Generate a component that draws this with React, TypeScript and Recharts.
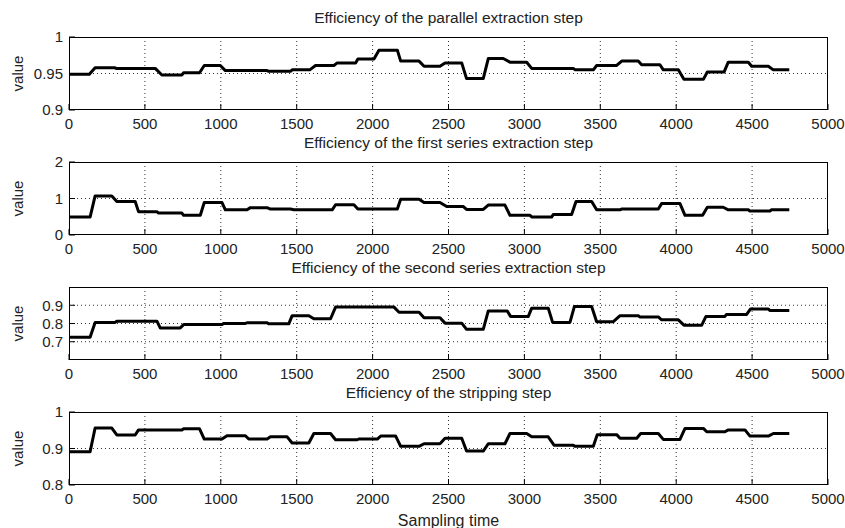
import React from "react";
import { LineChart, Line, XAxis, YAxis, CartesianGrid } from "recharts";

// Each efficiency trace is a run of plateaus: sample where a level starts,
// sample where it ends, and the level itself. The line ramps between them.
const parallelStart = [0, 172, 310, 612, 755, 891, 1030, 1315, 1470, 1624, 1767, 1903, 2042, 2185, 2339, 2477, 2619, 2762, 2905, 3048, 3335, 3476, 3641, 3772, 3915, 4051, 4205, 4343, 4497, 4640];
const parallelEnd = [134, 300, 568, 744, 860, 997, 1305, 1459, 1586, 1745, 1888, 2009, 2163, 2306, 2444, 2587, 2729, 2861, 3015, 3322, 3454, 3608, 3750, 3893, 4014, 4179, 4315, 4475, 4607, 4745];
const parallelLevel = [0.949, 0.958, 0.957, 0.948, 0.951, 0.961, 0.954, 0.953, 0.955, 0.961, 0.9645, 0.97, 0.982, 0.967, 0.96, 0.9645, 0.943, 0.9705, 0.9655, 0.957, 0.955, 0.961, 0.967, 0.962, 0.955, 0.942, 0.952, 0.9655, 0.96, 0.955];

const firstStart = [0, 172, 315, 458, 590, 755, 891, 1030, 1195, 1327, 1481, 1756, 1903, 2185, 2339, 2488, 2619, 2762, 2905, 3050, 3190, 3340, 3476, 3640, 3904, 4058, 4205, 4343, 4485, 4628];
const firstEnd = [139, 282, 436, 579, 744, 865, 1008, 1173, 1305, 1459, 1734, 1877, 2163, 2306, 2444, 2598, 2729, 2872, 3037, 3179, 3311, 3443, 3630, 3882, 4025, 4174, 4310, 4475, 4618, 4745];
const firstLevel = [0.49, 1.07, 0.92, 0.64, 0.6, 0.54, 0.89, 0.69, 0.75, 0.71, 0.69, 0.83, 0.71, 0.98, 0.89, 0.78, 0.7, 0.82, 0.54, 0.49, 0.56, 0.92, 0.69, 0.71, 0.86, 0.54, 0.76, 0.69, 0.66, 0.69];

const secondStart = [0, 172, 315, 601, 755, 1018, 1172, 1315, 1470, 1613, 1756, 2174, 2339, 2477, 2619, 2762, 2909, 3048, 3186, 3329, 3476, 3630, 3760, 3904, 4051, 4196, 4331, 4490, 4617];
const secondEnd = [139, 304, 579, 733, 1008, 1162, 1305, 1448, 1580, 1723, 2141, 2306, 2444, 2587, 2729, 2887, 3026, 3157, 3300, 3443, 3586, 3750, 3882, 4014, 4168, 4321, 4464, 4607, 4745];
const secondLevel = [0.725, 0.806, 0.813, 0.776, 0.794, 0.8, 0.804, 0.798, 0.843, 0.826, 0.89, 0.862, 0.832, 0.802, 0.768, 0.869, 0.839, 0.884, 0.806, 0.893, 0.81, 0.843, 0.836, 0.82, 0.791, 0.839, 0.85, 0.88, 0.871];

const stripStart = [0, 172, 315, 458, 755, 891, 1041, 1184, 1327, 1470, 1613, 1756, 1909, 2053, 2185, 2339, 2477, 2619, 2762, 2905, 3048, 3195, 3332, 3480, 3630, 3766, 3915, 4058, 4201, 4343, 4486, 4640];
const stripEnd = [139, 282, 436, 744, 860, 1008, 1162, 1305, 1437, 1580, 1723, 1899, 2031, 2152, 2306, 2444, 2587, 2729, 2872, 3015, 3157, 3322, 3454, 3608, 3740, 3882, 4025, 4179, 4321, 4453, 4607, 4745];
const stripLevel = [0.891, 0.956, 0.937, 0.951, 0.954, 0.926, 0.935, 0.926, 0.932, 0.915, 0.941, 0.924, 0.926, 0.934, 0.906, 0.913, 0.928, 0.893, 0.913, 0.941, 0.932, 0.909, 0.906, 0.938, 0.928, 0.941, 0.925, 0.955, 0.946, 0.951, 0.934, 0.941];

const xTicks = [0, 500, 1000, 1500, 2000, 2500, 3000, 3500, 4000, 4500, 5000];
const titles = [
  "Efficiency of the parallel extraction step",
  "Efficiency of the first series extraction step",
  "Efficiency of the second series extraction step",
  "Efficiency of the stripping step",
];
const yDomains = [[0.9, 1], [0, 2], [0.6, 1], [0.8, 1]];
const yTicks = [[0.9, 0.95, 1], [0, 1, 2], [0.7, 0.8, 0.9], [0.8, 0.9, 1]];

const toPoints = (start: number[], end: number[], level: number[]) =>
  start.flatMap((s, i) => [
    { t: s, v: level[i] },
    { t: end[i], v: level[i] },
  ]);

const series = [
  toPoints(parallelStart, parallelEnd, parallelLevel),
  toPoints(firstStart, firstEnd, firstLevel),
  toPoints(secondStart, secondEnd, secondLevel),
  toPoints(stripStart, stripEnd, stripLevel),
];

const FONT = '"Liberation Sans", Arial, Helvetica, sans-serif';
const TEXT = "#222";
const ROW = 125;
// plot box inside each panel
const PLOT_L = 69;
const PLOT_T = 37;
const PLOT_W = 759;
const PLOT_H = 73;

function Panel({ idx }: { idx: number }) {
  const last = idx === 3;
  const h = last ? 153 : 142;
  const [lo, hi] = yDomains[idx];
  return (
    <div style={{ position: "absolute", left: 0, top: idx * ROW, width: 845, height: h }}>
      <LineChart
        width={845}
        height={h}
        data={series[idx]}
        margin={{ top: PLOT_T - 1, right: 845 - PLOT_L - PLOT_W - 1, bottom: last ? 0 : 17, left: 0 }}
      >
        <CartesianGrid
          xAxisId="b"
          yAxisId="l"
          stroke="#333"
          strokeDasharray="1 3"
          horizontalValues={yTicks[idx].filter((v) => v > lo && v < hi)}
          verticalValues={xTicks.slice(1, -1)}
        />
        <XAxis
          xAxisId="b"
          dataKey="t"
          type="number"
          domain={[0, 5000]}
          ticks={xTicks}
          interval={0}
          height={last ? 43 : 15}
          stroke="#000"
          axisLine={false}
          tickSize={-6}
          tickMargin={14}
          tick={{ fill: TEXT, fontSize: 15 }}
          label={
            last
              ? { value: "Sampling time", position: "insideBottom", offset: 2, fill: TEXT, fontSize: 16 }
              : undefined
          }
        />
        {/* mirrored axes: inward ticks on the top and right edges */}
        <XAxis
          xAxisId="t"
          orientation="top"
          dataKey="t"
          type="number"
          domain={[0, 5000]}
          ticks={xTicks}
          interval={0}
          height={1}
          stroke="#000"
          axisLine={false}
          tickSize={-6}
          tick={false}
        />
        <YAxis
          yAxisId="l"
          type="number"
          domain={yDomains[idx]}
          ticks={yTicks[idx]}
          interval={0}
          width={PLOT_L}
          stroke="#000"
          axisLine={false}
          tickSize={-6}
          tickMargin={12}
          tick={{ fill: TEXT, fontSize: 15 }}
          label={{
            value: "value",
            angle: -90,
            position: "insideLeft",
            offset: 18,
            fill: TEXT,
            fontSize: 15,
            style: { textAnchor: "middle" },
          }}
        />
        <YAxis
          yAxisId="r"
          orientation="right"
          type="number"
          domain={yDomains[idx]}
          ticks={yTicks[idx]}
          interval={0}
          width={1}
          stroke="#000"
          axisLine={false}
          tickSize={-6}
          tick={false}
        />
        <Line
          xAxisId="t"
          yAxisId="r"
          dataKey="v"
          stroke="none"
          dot={false}
          activeDot={false}
          isAnimationActive={false}
        />
        <Line
          xAxisId="b"
          yAxisId="l"
          type="linear"
          dataKey="v"
          stroke="#000"
          strokeWidth={3}
          strokeLinejoin="round"
          dot={false}
          activeDot={false}
          isAnimationActive={false}
        />
      </LineChart>
      {/* axes box */}
      <div
        style={{
          position: "absolute",
          left: PLOT_L,
          top: PLOT_T,
          width: PLOT_W,
          height: PLOT_H,
          boxSizing: "border-box",
          border: "1px solid #000",
          zIndex: 5,
          pointerEvents: "none",
        }}
      />
      <div
        style={{
          position: "absolute",
          left: PLOT_L,
          width: PLOT_W,
          top: 9,
          textAlign: "center",
          fontSize: 15.5,
          lineHeight: "17px",
          color: TEXT,
          zIndex: 5,
        }}
      >
        {titles[idx]}
      </div>
    </div>
  );
}

export default function App() {
  return (
    <div
      style={{
        position: "absolute",
        left: 0,
        top: 0,
        width: 845,
        height: 528,
        background: "#fff",
        fontFamily: FONT,
        overflow: "hidden",
      }}
    >
      {[0, 1, 2, 3].map((i) => (
        <Panel key={i} idx={i} />
      ))}
    </div>
  );
}
